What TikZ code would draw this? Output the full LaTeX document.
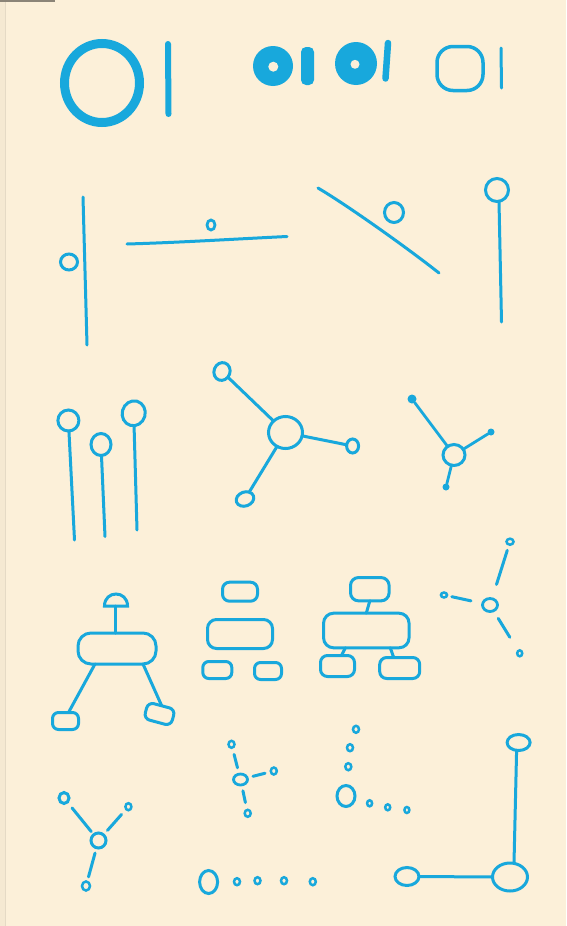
\documentclass[tikz,border=0pt]{standalone}
\usetikzlibrary{shapes.geometric}
\definecolor{paper}{RGB}{252,240,217}
\definecolor{ink}{RGB}{24,168,220}
\begin{document}
\begin{tikzpicture}[x=1pt,y=-1pt,
  wire/.style={draw=ink, line width=3pt, line cap=round},
  ring/.style={ellipse, draw=ink, line width=3pt, inner sep=0pt, outer sep=0pt},
  blob/.style={ellipse, fill=ink, inner sep=0pt, outer sep=0pt},
  box/.style={rectangle, draw=ink, line width=3pt, rounded corners=#1, inner sep=0pt, outer sep=0pt},
  box/.default=7pt,
  sz/.style 2 args={minimum width=#1pt, minimum height=#2pt}]
% paper
\fill[paper] (0,0) rectangle (566,926);
\useasboundingbox (0,0) rectangle (566,926);
\fill[black!3!paper] (0,0) rectangle (5,926);
\draw[black!9!paper, line width=0.6pt] (5,0) -- (5,926);
\fill[black!45!paper] (0,0) rectangle (55,1.5);

% ---- row 1
\node[ring, line width=9pt, sz={75}{79}] (bigO) at (102,83) {};
\draw[wire, line width=6pt] (168,44) -- (168.5,114);
\node[blob, sz={40}{40}] (d1) at (273,66) {};
\node[blob, fill=paper, sz={10}{10}] (h1) at (273.3,66.7) {};
\fill[ink, rounded corners=5pt] (301,47) rectangle (314,85);
\node[blob, sz={42}{43}] (d2) at (356,63.5) {};
\node[blob, fill=paper, sz={9}{9}] (h2) at (355,64.3) {};
\draw[wire, line width=6.5pt] (388,43) -- (385.5,78.5);
\node[box=16pt, line width=3.5pt, sz={46}{44}] (thinO) at (460,68.5) {};
\draw[wire] (501,48) -- (501.5,88);

% ---- row 2
\draw[wire] (83,197) -- (87,345);
\node[ring, sz={17}{16}] (c2a) at (69,262) {};
\draw[wire] (127,244) .. controls (180,242.5) and (235,239) .. (287,236.5);
\node[ring, line width=2.8pt, sz={8}{10}] (c2b) at (211,225) {};
\draw[wire] (318,188) .. controls (350,207) and (410,250) .. (439,273);
\node[ring, sz={19}{20}] (c2c) at (394,212.5) {};
\node[ring, sz={23}{23}] (pin) at (497,190) {};
\coordinate (pinend) at (501.5,322);
\draw[wire] ([xshift=2pt]pin.south) -- (pinend);

% ---- row 3
\node[ring, sz={21}{21}] (l1) at (68.4,420.5) {};
\coordinate (l1e) at (74.5,540);
\draw[wire] (l1) -- (l1e);
\node[ring, sz={20}{22}] (l2) at (101,444.5) {};
\coordinate (l2e) at (105,536.5);
\draw[wire] (l2) -- (l2e);
\node[ring, sz={23}{25}, rotate=-15] (l3) at (133.7,413.3) {};
\coordinate (l3e) at (137,530);
\draw[wire] (l3) -- (l3e);

\node[ring, sz={34}{32}] (hub) at (285.5,432.5) {};
\node[ring, sz={16}{18}, rotate=-20] (hA) at (222,371.5) {};
\node[ring, sz={12}{14}] (hB) at (352.6,446) {};
\node[ring, sz={18}{14}, rotate=20] (hC) at (245,499) {};
\draw[wire] (hub) -- (hA);
\draw[wire] (hub) -- (hB);
\draw[wire] (hub) -- (hC);

\node[ring, sz={22}{21}] (sh) at (454,455) {};
\node[blob, sz={9}{9}] (sA) at (412,399) {};
\node[blob, sz={7}{7}] (sB) at (491,432) {};
\node[blob, sz={7}{7}] (sC) at (446,487) {};
\draw[wire, line width=2.8pt] (sh) -- (sA);
\draw[wire, line width=2.8pt] (sh) -- (sB);
\draw[wire, line width=2.8pt] (sh) -- (sC);

% ---- row 4 : robot
\draw[draw=ink, line width=3pt, fill=paper] (104.5,606) .. controls (104.5,590) and (127.5,590) .. (127.5,606) -- cycle;
\coordinate (domeb) at (115.5,606);
\node[box=13pt, sz={78}{31}] (body) at (117,648.5) {};
\draw[wire] (domeb) -- (body.north -| domeb);
\node[box=6pt, sz={26}{17}] (bl) at (65.5,721) {};
\node[box=6pt, sz={28}{17}, rotate=-15] (br) at (159.5,714) {};
\draw[wire] ([xshift=-22pt]body.south) -- ([xshift=3pt]bl.north);
\draw[wire] ([xshift=26pt]body.south) -- (br.north);

% hierarchy 1
\node[box=7pt, sz={35}{19}] (h1t) at (240,591.7) {};
\node[box=9pt, sz={65}{29}] (h1m) at (240,634) {};
\node[box=6pt, sz={29}{17}] (h1l) at (217.3,670) {};
\node[box=6pt, sz={27}{17}] (h1r) at (268,671) {};

% hierarchy 2
\node[box=8pt, sz={38.6}{23.3}] (h2t) at (369.8,589.2) {};
\node[box=10pt, sz={85.5}{34.6}] (h2m) at (366.3,630.5) {};
\node[box=7pt, sz={34}{21}] (h2l) at (337.5,666) {};
\node[box=7pt, sz={40}{21}] (h2r) at (399.7,668) {};
\draw[wire] (h2t.south) -- (h2m.north);
\draw[wire] ([xshift=-21pt]h2m.south) -- ([xshift=4pt]h2l.north);
\draw[wire] ([xshift=24pt]h2m.south) -- ([xshift=-6pt]h2r.north);

% dashed star
\node[ring, line width=2.8pt, sz={15}{13}] (sc) at (490,605) {};
\node[ring, line width=2.5pt, sz={7}{6}] (st) at (510,541.7) {};
\node[ring, line width=2.5pt, sz={6}{5}] (sl) at (444,595) {};
\node[ring, line width=2.5pt, sz={5}{6}] (sr) at (519.7,653.3) {};
\draw[wire, shorten <=15pt, shorten >=6pt] (sc) -- (st);
\draw[wire, shorten <=12pt, shorten >=5pt] (sc) -- (sl);
\draw[wire, shorten <=9pt, shorten >=16pt] (sc) -- (sr);

% ---- row 5
% Y star
\node[ring, sz={15}{15}] (y0) at (98.5,840.5) {};
\node[ring, sz={10}{11}] (ya) at (64,798) {};
\node[ring, line width=2.5pt, sz={6}{7}] (yb) at (128.4,806.7) {};
\node[ring, line width=2.5pt, sz={8}{9}] (yd) at (86,886) {};
\draw[wire, shorten <=4pt, shorten >=7.5pt] (y0) -- (ya);
\draw[wire, shorten <=6pt, shorten >=7pt] (y0) -- (yb);
\draw[wire, shorten <=5.5pt, shorten >=5pt] (y0) -- (yd);

% small dashed star
\node[ring, line width=2.8pt, sz={14}{11}] (m0) at (240.5,779.5) {};
\node[ring, line width=2.5pt, sz={6}{7}] (mt) at (231.5,744.3) {};
\node[ring, line width=2.5pt, sz={6}{7}] (mr) at (273.8,771) {};
\node[ring, line width=2.5pt, sz={6}{7}] (mb) at (247.7,813.3) {};
\draw[wire, shorten <=6.5pt, shorten >=7pt] (m0) -- (mt);
\draw[wire, shorten <=6pt, shorten >=6pt] (m0) -- (mr);
\draw[wire, shorten <=6pt, shorten >=7.5pt] (m0) -- (mb);

% dotted L
\node[ring, line width=2.5pt, sz={6}{7}] (p1) at (356,729.3) {};
\node[ring, line width=2.5pt, sz={6}{7}] (p2) at (350,747.7) {};
\node[ring, line width=2.5pt, sz={6}{7}] (p3) at (348.3,766.7) {};
\node[ring, sz={18}{21}] (pB) at (346,796) {};
\node[ring, line width=2.5pt, sz={5}{6}] (q1) at (369.6,803.3) {};
\node[ring, line width=2.5pt, sz={5}{6}] (q2) at (387.7,807.3) {};
\node[ring, line width=2.5pt, sz={5}{6}] (q3) at (406.9,810) {};

% dotted row
\node[ring, sz={18}{23}] (rB) at (208.6,882) {};
\node[ring, line width=2.5pt, sz={6}{7}] (r1) at (237,881.7) {};
\node[ring, line width=2.5pt, sz={6}{7}] (r2) at (257.5,880.7) {};
\node[ring, line width=2.5pt, sz={6}{7}] (r3) at (284,880.7) {};
\node[ring, line width=2.5pt, sz={6}{7}] (r4) at (312.8,881.7) {};

% L shape
\node[ring, sz={23}{16}] (LT) at (518.6,742.5) {};
\node[ring, sz={35}{28}] (LG) at (510,877) {};
\node[ring, sz={24}{18}] (LL) at (407,876.5) {};
\draw[wire] ([xshift=-2pt]LT.south) -- ([xshift=4pt]LG.north);
\draw[wire] (LL.east) -- (LG.west);
\end{tikzpicture}
\end{document}
